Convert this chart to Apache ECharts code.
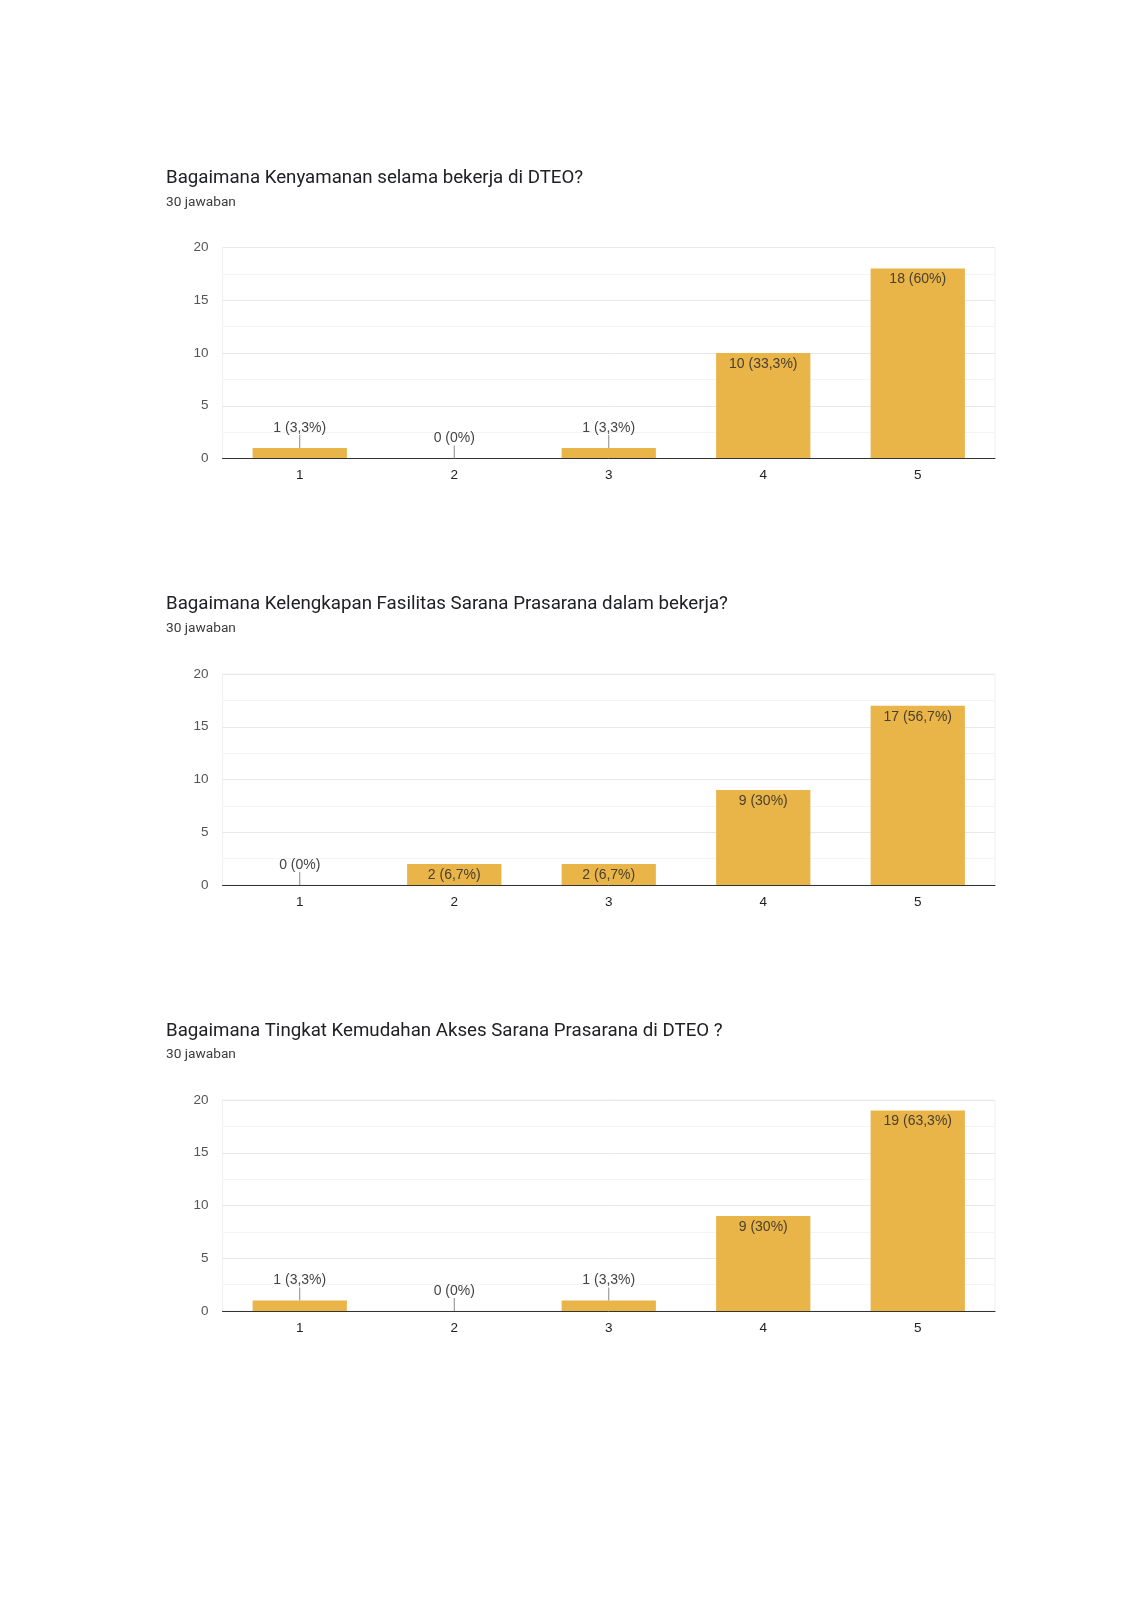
<!DOCTYPE html>
<html>
<head>
<meta charset="utf-8">
<script src="https://cdn.jsdelivr.net/npm/echarts@6/dist/echarts.min.js"></script>
<style>
  html, body { margin: 0; padding: 0; background: #fff; }
  #main { width: 1132px; height: 1600px; }
</style>
</head>
<body>
<div id="main"></div>
<script>
// data
var categories = ['1', '2', '3', '4', '5'];
var questions = [
  'Bagaimana Kenyamanan selama bekerja di DTEO?',
  'Bagaimana Kelengkapan Fasilitas Sarana Prasarana dalam bekerja?',
  'Bagaimana Tingkat Kemudahan Akses Sarana Prasarana di DTEO ?'
];
var totalAnswers = 30;
var kenyamanan = [1, 0, 1, 10, 18];
var kelengkapan = [0, 2, 2, 9, 17];
var kemudahan = [1, 0, 1, 9, 19];
var yMin = 0, yMax = 20, yStep = 5;

var allSeries = [kenyamanan, kelengkapan, kemudahan];

var myChart = echarts.init(document.getElementById('main'), null, { renderer: 'canvas' });

var barColor = '#e9b448';
var gridTops = [247.5, 674, 1100];
var titleTops = [168, 594, 1021];
var subTops = [195, 621, 1047];

function pctText(v) {
  var p = Math.round(v / totalAnswers * 1000) / 10;
  return (p + '').replace('.', ',') + '%';
}

var option = {
  animation: false,
  backgroundColor: '#fff',
  title: [],
  grid: [],
  xAxis: [],
  yAxis: [],
  series: []
};

allSeries.forEach(function(values, k) {
  option.title.push({
    text: questions[k],
    left: 166, top: titleTops[k], padding: 0,
    textStyle: { fontFamily: 'Roboto', fontSize: 18.7, fontWeight: 'normal', color: '#202124', lineHeight: 20 }
  });
  option.title.push({
    text: totalAnswers + ' jawaban',
    left: 166, top: subTops[k], padding: 0,
    textStyle: { fontFamily: 'Roboto', fontSize: 13.7, fontWeight: 'normal', color: '#3c3c3c', lineHeight: 16 }
  });

  option.grid.push({
    left: 222.5, width: 772.5, top: gridTops[k], height: 211,
    show: true, borderColor: '#f0f0f0', borderWidth: 1
  });

  option.xAxis.push({
    type: 'category', gridIndex: k, data: categories,
    axisLine: { lineStyle: { color: '#333', width: 1 } },
    axisTick: { show: false },
    axisLabel: { fontFamily: 'Liberation Sans', fontSize: 13.5, color: '#222', margin: 10 },
    z: 5
  });

  option.yAxis.push({
    type: 'value', gridIndex: k, min: yMin, max: yMax, interval: yStep,
    axisLine: { show: false }, axisTick: { show: false },
    axisLabel: { fontFamily: 'Liberation Sans', fontSize: 13.5, color: '#555', margin: 14 },
    splitLine: { lineStyle: { color: '#e8e8e8' } },
    minorTick: { show: false, splitNumber: 2 },
    minorSplitLine: { show: true, lineStyle: { color: '#f4f4f4' } }
  });

  option.series.push({
    type: 'bar', xAxisIndex: k, yAxisIndex: k,
    barWidth: '61%',
    itemStyle: { color: barColor },
    data: values.map(function(v) {
      var small = v < 2;
      return {
        value: v,
        label: {
          show: true,
          position: small ? 'top' : 'insideTop',
          distance: small ? 13 : 4,
          fontFamily: 'Liberation Sans', fontSize: 14,
          color: small ? '#444' : '#4a4030',
          formatter: function(p) { return p.value + ' (' + pctText(p.value) + ')'; }
        }
      };
    })
  });

  // leader lines for labels sitting above short bars
  var smallData = [];
  values.forEach(function(v, i) { if (v < 2) smallData.push([i, v]); });
  option.series.push({
    type: 'custom', xAxisIndex: k, yAxisIndex: k, z: 10,
    data: smallData,
    renderItem: function(params, api) {
      var p = api.coord([api.value(0), api.value(1)]);
      return {
        type: 'line',
        shape: { x1: p[0], y1: p[1], x2: p[0], y2: p[1] - 13 },
        style: { stroke: '#888', lineWidth: 1 }
      };
    }
  });
});

myChart.setOption(option);
</script>
</body>
</html>
